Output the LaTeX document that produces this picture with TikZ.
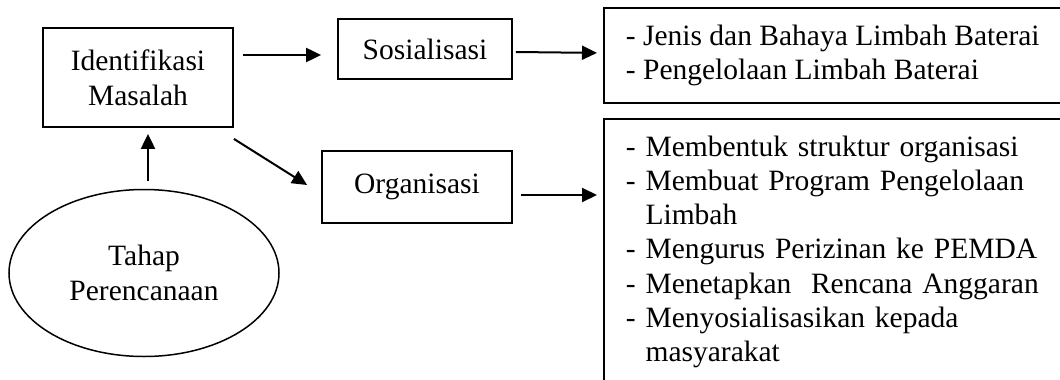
\documentclass[tikz,border=0pt]{standalone}
\usepackage{fontspec}
\setmainfont{Liberation Serif}
\usetikzlibrary{arrows.meta, shapes.geometric}

\begin{document}
\begin{tikzpicture}[x=1pt, y=-1pt, font=\fontsize{29.5}{35}\selectfont,
      >={Triangle[length=15pt, width=14pt]},
      box/.style={draw, line width=1.8pt, align=center, inner sep=0pt},
      plan/.style={draw, ellipse, line width=1.5pt, align=center, inner sep=0pt,
        minimum width=270pt, minimum height=167pt},
      lst/.style={draw, line width=1.8pt, align=left, anchor=north west, inner xsep=22pt,
        font=\fontsize{29.5}{34.2}\selectfont},
      arr/.style={->, line width=2pt}]
    \useasboundingbox (0,0) rectangle (1060,380);
    \clip (0,0) rectangle (1060,380);
    \node[box, minimum width=190pt, minimum height=99pt] (ident) at (138,77.5) {Identifikasi\\ Masalah};
    \node[box, minimum width=174pt, minimum height=60pt] (sos) at (425,49) {Sosialisasi};
    \node[box, minimum width=190pt, minimum height=72pt] (org) at (417,187) {Organisasi};
    \node[plan] (plan) at (144,273) {Tahap\\ Perencanaan};
    \node[lst, minimum width=454pt, minimum height=95pt, inner ysep=0pt] (lst1) at (603,7)
      {- Jenis dan Bahaya Limbah Baterai\\ - Pengelolaan Limbah Baterai};
    \node[lst, text width=450pt, inner ysep=17pt] (lst2) at (603,118)
      {- Membentuk struktur organisasi\\ - Membuat Program Pengelolaan\\ \hphantom{-}\ Limbah\\
       - Mengurus Perizinan ke PEMDA\\ - Menetapkan\ \ Rencana Anggaran\\
       - Menyosialisasikan kepada\\ \hphantom{-}\ masyarakat};
    \coordinate (o3) at ([xshift=8pt,yshift=-8pt]org.east);
    \draw[arr] ([xshift=9pt,yshift=22.5pt]ident.east) -- ([xshift=-16pt,yshift=-6pt]sos.west);
    \draw[arr] ([xshift=3pt,yshift=-3pt]sos.east) -- ([xshift=-6pt,yshift=2.5pt]lst1.west);
    \draw[arr] ([yshift=-11pt]ident.south east) -- ([xshift=-14pt,yshift=2pt]org.west);
    \draw[arr, shorten >=6pt] (o3) -- (o3 -| lst2.west);
    \draw[arr] ([xshift=4pt,yshift=8pt]plan.north) -- ([xshift=10pt,yshift=-6pt]ident.south);
  \end{tikzpicture}
\end{document}
